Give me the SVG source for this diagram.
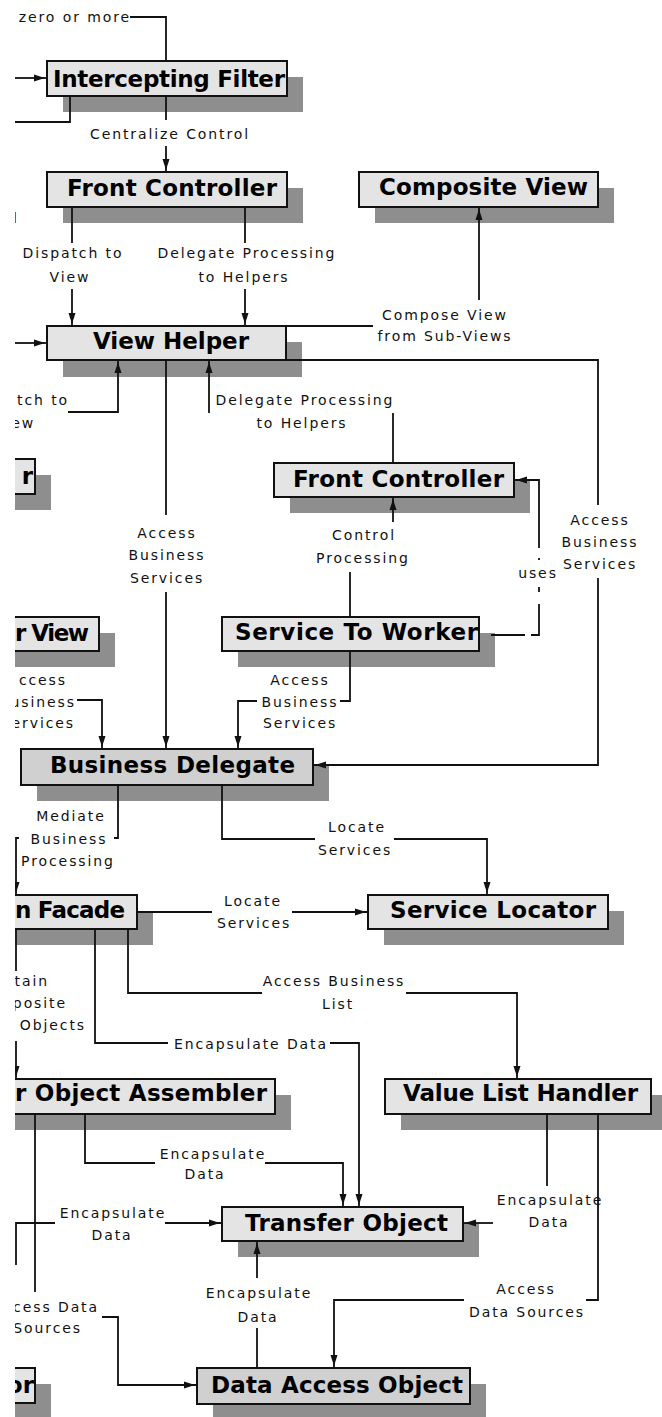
<svg xmlns="http://www.w3.org/2000/svg" width="662" height="1417" viewBox="0 0 662 1417">
<style>
.shadow{fill:#8e8e8e}
.box{fill:#e4e4e4;stroke:#111;stroke-width:2}
.dark{fill:#d0d0d0}
.title{font-family:"DejaVu Sans","Liberation Sans",sans-serif;font-weight:bold;font-size:23px;fill:#000}
.lbl{font-family:"DejaVu Sans","Liberation Sans",sans-serif;font-size:14px;letter-spacing:1.9px;fill:#111;text-anchor:middle}
.e{text-anchor:end}
.s{text-anchor:start}
.ln{fill:none;stroke:#111;stroke-width:1.8}
.arr{marker-end:url(#ah)}
</style>
<defs>
<clipPath id="clipL"><rect x="15" y="0" width="647" height="1417"/></clipPath>
<marker id="ah" viewBox="0 -5 16 10" refX="13" refY="0" markerWidth="16" markerHeight="10" markerUnits="userSpaceOnUse" orient="auto" overflow="visible"><path d="M0,-3.5 L11,0 L0,3.5 Z" fill="#111"/></marker>
</defs>
<rect width="662" height="1417" fill="#fff"/>
<g clip-path="url(#clipL)">
<g id="n-intercepting-filter"><rect class="shadow" x="63" y="77" width="240" height="35"/><rect class="box" x="47" y="61" width="240" height="35"/><text class="title" x="53" y="87" textLength="232" lengthAdjust="spacing">Intercepting Filter</text></g>
<g id="n-front-controller-1"><rect class="shadow" x="63" y="188" width="240" height="35"/><rect class="box" x="47" y="172" width="240" height="35"/><text class="title" x="67" y="196" textLength="210" lengthAdjust="spacing">Front Controller</text></g>
<g id="n-composite-view"><rect class="shadow" x="375" y="188" width="239" height="35"/><rect class="box" x="359" y="172" width="239" height="35"/><text class="title" x="379" y="195" textLength="209" lengthAdjust="spacing">Composite View</text></g>
<g id="n-view-helper"><rect class="shadow" x="63" y="342" width="239" height="35"/><rect class="box" x="47" y="326" width="239" height="34"/><text class="title" x="93" y="349" textLength="156" lengthAdjust="spacing">View Helper</text></g>
<g id="n-partial-r"><rect class="shadow" x="-184" y="475" width="235" height="35"/><rect class="box" x="-200" y="459" width="235" height="35"/><text class="title e" x="33" y="484">r</text></g>
<g id="n-front-controller-2"><rect class="shadow" x="290" y="479" width="240" height="34"/><rect class="box" x="274" y="463" width="240" height="34"/><text class="title" x="293" y="487" textLength="211" lengthAdjust="spacing">Front Controller</text></g>
<g id="n-partial-r-view"><rect class="shadow" x="-184" y="633" width="299" height="34"/><rect class="box" x="-200" y="617" width="299" height="34"/><text class="title" x="15" y="641" textLength="74" lengthAdjust="spacing">r View</text></g>
<g id="n-service-to-worker"><rect class="shadow" x="238" y="633" width="257" height="34"/><rect class="box" x="222" y="617" width="257" height="34"/><text class="title" x="235" y="640" textLength="243" lengthAdjust="spacing">Service To Worker</text></g>
<g id="n-business-delegate"><rect class="shadow" x="37" y="765" width="292" height="36"/><rect class="box dark" x="21" y="749" width="292" height="36"/><text class="title" x="50" y="773" textLength="245" lengthAdjust="spacing">Business Delegate</text></g>
<g id="n-partial-session-facade"><rect class="shadow" x="-184" y="911" width="337" height="34"/><rect class="box" x="-200" y="895" width="337" height="34"/><text class="title" x="15" y="918" textLength="110" lengthAdjust="spacing">n Facade</text></g>
<g id="n-service-locator"><rect class="shadow" x="384" y="911" width="240" height="34"/><rect class="box" x="368" y="895" width="240" height="34"/><text class="title" x="390" y="918" textLength="206" lengthAdjust="spacing">Service Locator</text></g>
<g id="n-partial-object-assembler"><rect class="shadow" x="-184" y="1095" width="475" height="35"/><rect class="box" x="-200" y="1079" width="475" height="35"/><text class="title" x="15" y="1101" textLength="252" lengthAdjust="spacing">r Object Assembler</text></g>
<g id="n-value-list-handler"><rect class="shadow" x="401" y="1095" width="266" height="35"/><rect class="box" x="385" y="1079" width="266" height="35"/><text class="title" x="403" y="1101" textLength="235" lengthAdjust="spacing">Value List Handler</text></g>
<g id="n-transfer-object"><rect class="shadow" x="238" y="1223" width="241" height="34"/><rect class="box" x="222" y="1207" width="241" height="34"/><text class="title" x="245" y="1231" textLength="203" lengthAdjust="spacing">Transfer Object</text></g>
<g id="n-partial-or"><rect class="shadow" x="-184" y="1384" width="235" height="35"/><rect class="box" x="-200" y="1368" width="235" height="35"/><text class="title e" x="34" y="1393">or</text></g>
<g id="n-data-access-object"><rect class="shadow" x="213" y="1384" width="273" height="36"/><rect class="box dark" x="197" y="1368" width="273" height="36"/><text class="title" x="211" y="1393" textLength="252" lengthAdjust="spacing">Data Access Object</text></g>

<g id="connectors">
<path class="ln" d="M130,17 H166 V61"/>
<text class="lbl e" x="131" y="22">zero or more</text>
<text class="lbl s" x="13" y="223">l</text>
<path class="ln arr" d="M15,78 H47"/>
<path class="ln" d="M70,96 V122 H15"/>
<path class="ln" d="M166,96 V120"/><path class="ln arr" d="M166,146 V172"/>
<text class="lbl" x="170" y="139">Centralize Control</text>
<path class="ln" d="M72,207 V243"/><path class="ln arr" d="M72,289 V326"/>
<text class="lbl" x="73" y="258">Dispatch to</text><text class="lbl" x="70" y="282">View</text>
<path class="ln" d="M245,207 V243"/><path class="ln arr" d="M245,289 V326"/>
<text class="lbl" x="247" y="258">Delegate Processing</text><text class="lbl" x="244" y="282">to Helpers</text>
<path class="ln" d="M286,326 H373"/><path class="ln arr" d="M479,300 V207"/>
<text class="lbl" x="445" y="320">Compose View</text><text class="lbl" x="445" y="341">from Sub-Views</text>
<path class="ln arr" d="M15,343 H47"/>
<path class="ln" d="M286,360 H598 V505"/><path class="ln arr" d="M598,578 V765 H313"/>
<text class="lbl" x="600" y="525">Access</text><text class="lbl" x="600" y="547">Business</text><text class="lbl" x="600" y="569">Services</text>
<path class="ln arr" d="M68,412 H118 V360"/>
<text class="lbl e" x="69" y="405">atch to</text><text class="lbl e" x="35" y="428">ew</text>
<path class="ln" d="M393,463 V413"/><path class="ln arr" d="M209,413 V360"/>
<text class="lbl" x="305" y="405">Delegate Processing</text><text class="lbl" x="302" y="428">to Helpers</text>
<path class="ln" d="M166,360 V515"/><path class="ln arr" d="M166,592 V749"/>
<text class="lbl" x="167" y="538">Access</text><text class="lbl" x="167" y="560">Business</text><text class="lbl" x="167" y="583">Services</text>
<path class="ln arr" d="M393,522 V497"/><path class="ln" d="M350,572 V617"/>
<text class="lbl" x="364" y="540">Control</text><text class="lbl" x="363" y="563">Processing</text>
<path class="ln arr" d="M491,635 H539 V480 H514" stroke-dasharray="34 6 39 12 5 27 2 10 93"/>
<text class="lbl" x="538" y="578">uses</text>
<path class="ln" d="M350,651 V701 H340"/><path class="ln arr" d="M257,701 H238 V749"/>
<text class="lbl" x="300" y="685">Access</text><text class="lbl" x="300" y="707">Business</text><text class="lbl" x="300" y="728">Services</text>
<path class="ln arr" d="M77,700 H102 V749"/>
<text class="lbl e" x="67" y="685">ccess</text><text class="lbl e" x="76" y="707">usiness</text><text class="lbl e" x="75" y="728">ervices</text>
<path class="ln" d="M118,785 V838 H114"/><path class="ln arr" d="M19,838 H16 V895"/>
<text class="lbl" x="71" y="821">Mediate</text><text class="lbl" x="69" y="844">Business</text><text class="lbl" x="68" y="866">Processing</text>
<path class="ln" d="M222,785 V839 H315"/><path class="ln arr" d="M394,839 H487 V895"/>
<text class="lbl" x="357" y="832">Locate</text><text class="lbl" x="355" y="855">Services</text>
<path class="ln" d="M137,912 H212"/><path class="ln arr" d="M292,912 H368"/>
<text class="lbl" x="253" y="906">Locate</text><text class="lbl" x="254" y="928">Services</text>
<path class="ln" d="M16,929 V971"/><path class="ln arr" d="M16,1041 V1079"/>
<text class="lbl e" x="49" y="986">tain</text><text class="lbl e" x="67" y="1008">posite</text><text class="lbl e" x="86" y="1030">Objects</text>
<path class="ln" d="M95,929 V1043 H168"/><path class="ln arr" d="M330,1043 H359 V1207"/>
<text class="lbl" x="251" y="1049">Encapsulate Data</text>
<path class="ln" d="M128,929 V993 H262"/><path class="ln arr" d="M406,993 H517 V1079"/>
<text class="lbl" x="334" y="986">Access Business</text><text class="lbl" x="338" y="1009">List</text>
<path class="ln" d="M85,1114 V1163 H155"/><path class="ln arr" d="M265,1163 H343 V1207"/>
<text class="lbl" x="213" y="1159">Encapsulate</text><text class="lbl" x="205" y="1179">Data</text>
<path class="ln" d="M35,1114 V1292"/><path class="ln arr" d="M102,1317 H118 V1385 H197"/>
<text class="lbl e" x="99" y="1312">cess Data</text><text class="lbl e" x="82" y="1333">Sources</text>
<path class="ln" d="M16,1265 V1223 H55"/><path class="ln arr" d="M165,1223 H222"/>
<text class="lbl" x="113" y="1218">Encapsulate</text><text class="lbl" x="112" y="1240">Data</text>
<path class="ln" d="M547,1114 V1186"/><path class="ln arr" d="M493,1223 H463"/>
<text class="lbl" x="550" y="1205">Encapsulate</text><text class="lbl" x="549" y="1227">Data</text>
<path class="ln" d="M598,1114 V1300 H586"/><path class="ln arr" d="M464,1300 H334 V1368"/>
<text class="lbl" x="526" y="1294">Access</text><text class="lbl" x="527" y="1317">Data Sources</text>
<path class="ln" d="M257,1368 V1328"/><path class="ln arr" d="M257,1278 V1241"/>
<text class="lbl" x="259" y="1298">Encapsulate</text><text class="lbl" x="258" y="1322">Data</text>
</g>
</g>
</svg>
